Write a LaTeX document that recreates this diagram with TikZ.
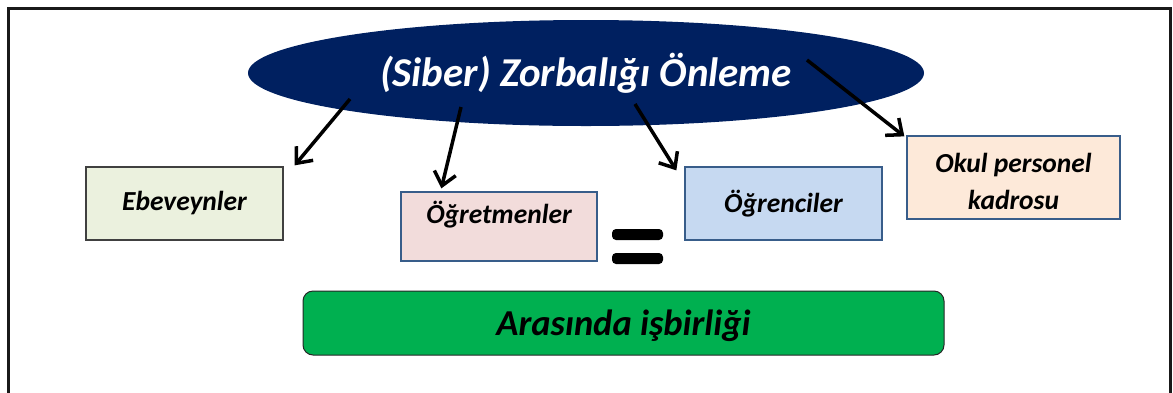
\documentclass[tikz,border=0pt]{standalone}
\usepackage{fontspec}
\setmainfont{Carlito}
\usepackage{tikz}
\usetikzlibrary{arrows.meta,shapes.geometric}

\definecolor{navyfill}{HTML}{002060}
\definecolor{greenfill}{HTML}{00B050}
\definecolor{ebfill}{HTML}{EBF1DE}
\definecolor{ogfill}{HTML}{F2DCDB}
\definecolor{ogrfill}{HTML}{C6D9F1}
\definecolor{okfill}{HTML}{FDE9D9}
\definecolor{boxline}{HTML}{385D8A}

\begin{document}
\begin{tikzpicture}[x=1pt,y=-1pt,
		box/.style={draw=boxline,line width=1.3pt,inner sep=0pt},
		lbl/.style={font=\fontsize{27.5}{37}\selectfont\bfseries\itshape,align=center},
		arr/.style={line width=3.5pt,-{Straight Barb[length=13pt,width=22pt,line width=3.5pt]}}]
				\useasboundingbox (0,0) rectangle (1173,392);
				\draw[line width=3.5pt,black!90] (8.5,400) -- (8.5,8.5) -- (1170.5,8.5) -- (1170.5,400);
				
				% top ellipse
				\node (zorb) [ellipse,fill=navyfill,minimum width=676pt,minimum height=106pt,inner sep=0pt,
					font=\fontsize{41}{43}\selectfont\bfseries\itshape,text=white] at (586,73) {(Siber) Zorbalığı Önleme};
				
				% the four groups
				\node (eb) [box,draw=black!75,fill=ebfill,minimum width=197pt,minimum height=73pt,lbl] at (184.5,203.5) {Ebeveynler};
				\node (og) [box,fill=ogfill,minimum width=196pt,minimum height=69pt] at (499,226.5) {};
				\node (ogtxt) [lbl] at (499,215) {Öğretmenler};
				\node (ogr) [box,fill=ogrfill,minimum width=197pt,minimum height=73pt,lbl] at (783.5,203.5) {Öğrenciler};
				\node (ok) [box,fill=okfill,minimum width=213pt,minimum height=83pt] at (1013.5,177.5) {};
				\node (oktxt) [lbl] at (1013.5,181) {Okul personel\\kadrosu};
				
				% equals sign
				\fill[rounded corners=4pt] (612,229) rectangle (663,240);
				\fill[rounded corners=4pt] (612,253) rectangle (663,264);
				
				% bottom bar
				\node (isb) [draw=black!85,line width=1pt,fill=greenfill,rounded corners=10pt,minimum width=641pt,minimum height=64pt,
					text depth=0pt,font=\fontsize{36.5}{40}\selectfont\bfseries\itshape] at (623.5,323) {Arasında işbirliği};
				
				\coordinate (s1) at (350,99);
				\coordinate (s2) at (461,107);
				\coordinate (s3) at (635,104);
				\coordinate (s4) at (807,60);
				\draw[arr] (s1) -- ([shift={(11,-1)}]eb.north east);
				\draw[arr] (s2) -- ([shift={(41,-3)}]og.north west);
				\draw[arr] (s3) -- ([shift={(-8,4)}]ogr.north west);
				\draw[arr] (s4) -- ([shift={(-2,1)}]ok.north west);
\end{tikzpicture}
\end{document}
